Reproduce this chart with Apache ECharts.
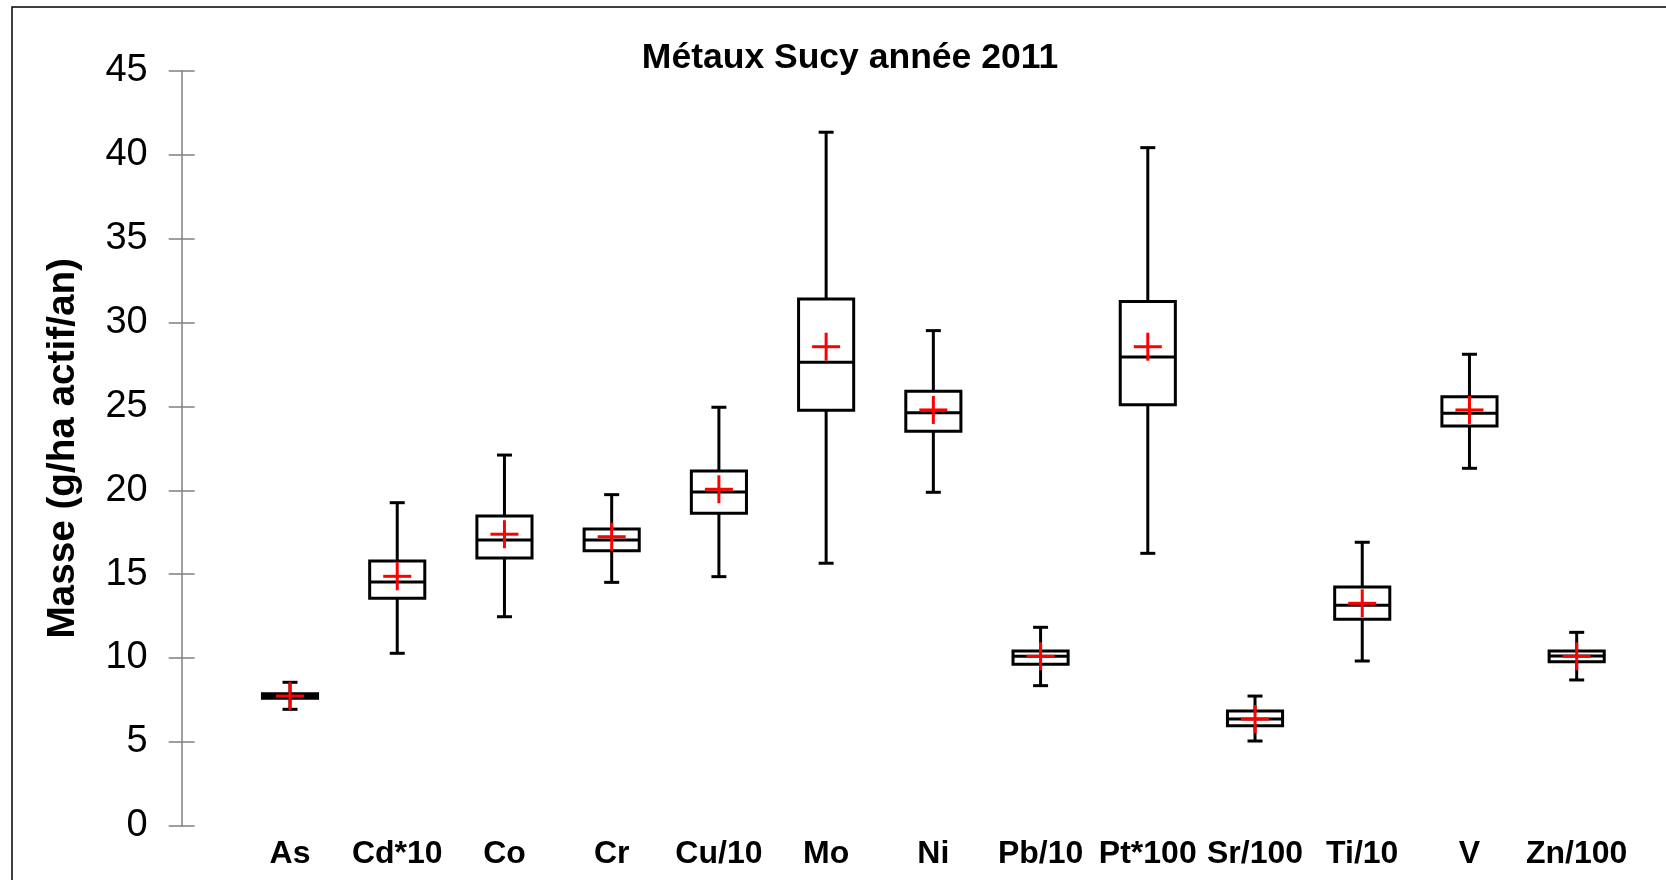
<!DOCTYPE html>
<html>
<head>
<meta charset="utf-8">
<script src="https://cdn.jsdelivr.net/npm/echarts@6/dist/echarts.min.js"></script>
<style>
html,body{margin:0;padding:0;background:#fff;}
#chart{width:1666px;height:880px;}
</style>
</head>
<body>
<div id="chart"></div>
<script>
var categories = ['As','Cd*10','Co','Cr','Cu/10','Mo','Ni','Pb/10','Pt*100','Sr/100','Ti/10','V','Zn/100'];
var minVals    = [6.94, 10.28, 12.46, 14.51, 14.85, 15.65, 19.88, 8.35, 16.24, 5.05, 9.82, 21.31, 8.69];
var q1Vals     = [7.60, 13.56, 15.96, 16.40, 18.63, 24.77, 23.52, 9.62, 25.10, 5.96, 12.31, 23.83, 9.78];
var medianVals = [7.73, 14.53, 17.04, 17.04, 19.90, 27.63, 24.63, 10.10, 27.95, 6.36, 13.14, 24.59, 10.12];
var q3Vals     = [7.87, 15.78, 18.47, 17.69, 21.15, 31.41, 25.90, 10.42, 31.25, 6.84, 14.23, 25.58, 10.42];
var maxVals    = [8.55, 19.26, 22.10, 19.74, 24.95, 41.35, 29.52, 11.83, 40.43, 7.73, 16.90, 28.11, 11.53];
var meanVals   = [7.73, 14.87, 17.38, 17.23, 20.06, 28.56, 24.79, 10.10, 28.56, 6.36, 13.26, 24.79, 10.10];
var yTicks = {min: 0, max: 45, interval: 5};

var data = categories.map(function (c, i) {
  return [i, minVals[i], q1Vals[i], medianVals[i], q3Vals[i], maxVals[i], meanVals[i]];
});

var chart = echarts.init(document.getElementById('chart'), null, {renderer: 'canvas'});

function renderItem(params, api) {
  var idx = api.value(0);
  var band = api.size([1, 0])[0];
  var half = band * 0.257;
  var cap = 7.5;
  var cross = 14;
  var pMin = api.coord([idx, api.value(1)]);
  var pQ1 = api.coord([idx, api.value(2)]);
  var pMed = api.coord([idx, api.value(3)]);
  var pQ3 = api.coord([idx, api.value(4)]);
  var pMax = api.coord([idx, api.value(5)]);
  var pMean = api.coord([idx, api.value(6)]);
  var x = pMed[0];
  var blk = {stroke: '#000', lineWidth: 3, fill: null};
  var red = {stroke: '#ff0000', lineWidth: 3};
  return {
    type: 'group',
    children: [
      {type: 'line', shape: {x1: x, y1: pMax[1], x2: x, y2: pQ3[1]}, style: blk},
      {type: 'line', shape: {x1: x, y1: pQ1[1], x2: x, y2: pMin[1]}, style: blk},
      {type: 'line', shape: {x1: x - cap, y1: pMax[1], x2: x + cap, y2: pMax[1]}, style: blk},
      {type: 'line', shape: {x1: x - cap, y1: pMin[1], x2: x + cap, y2: pMin[1]}, style: blk},
      {type: 'rect', shape: {x: x - half, y: pQ3[1], width: 2 * half, height: pQ1[1] - pQ3[1]}, style: {stroke: '#000', lineWidth: 3, fill: '#fff'}},
      {type: 'line', shape: {x1: x - half, y1: pMed[1], x2: x + half, y2: pMed[1]}, style: blk},
      {type: 'line', shape: {x1: x - cross, y1: pMean[1], x2: x + cross, y2: pMean[1]}, style: red},
      {type: 'line', shape: {x1: x, y1: pMean[1] - cross, x2: x, y2: pMean[1] + cross}, style: red}
    ]
  };
}

var option = {
  backgroundColor: '#fff',
  animation: false,
  title: {
    text: 'Métaux Sucy année 2011',
    left: 845,
    top: 35,
    textAlign: 'center',
    textStyle: {fontFamily: 'Liberation Sans, Arial, sans-serif', fontWeight: 'bold', fontSize: 35.5, color: '#000'}
  },
  graphic: [{
    type: 'rect',
    shape: {x: 12, y: 7, width: 1700, height: 900},
    style: {stroke: '#000', lineWidth: 1.5, fill: null},
    silent: true
  }],
  grid: {left: 236.4, right: 35.7, top: 71, bottom: 54.3, containLabel: false},
  xAxis: {
    type: 'category',
    data: categories,
    boundaryGap: true,
    axisLine: {show: false},
    axisTick: {show: false},
    splitLine: {show: false},
    axisLabel: {
      interval: 0,
      margin: 12,
      color: '#000',
      fontFamily: 'Liberation Sans, Arial, sans-serif',
      fontWeight: 'bold',
      fontSize: 32
    }
  },
  yAxis: [{
    type: 'value',
    min: yTicks.min, max: yTicks.max, interval: yTicks.interval,
    offset: 54.7,
    name: 'Masse (g/ha actif/an)',
    nameLocation: 'middle',
    nameGap: 99,
    nameRotate: 90,
    nameTextStyle: {fontFamily: 'Liberation Sans, Arial, sans-serif', fontWeight: 'bold', fontSize: 38.7, color: '#000'},
    axisLine: {show: true, lineStyle: {color: '#808080', width: 1.5}},
    axisTick: {show: true, inside: false, length: 13, lineStyle: {color: '#808080', width: 1.5}},
    splitLine: {show: false},
    axisLabel: {
      margin: 34,
      color: '#000',
      fontFamily: 'Liberation Sans, Arial, sans-serif',
      fontSize: 38
    }
  }, {
    type: 'value',
    min: yTicks.min, max: yTicks.max, interval: yTicks.interval,
    offset: 54.7,
    position: 'left',
    axisLine: {show: false},
    axisTick: {show: true, inside: true, length: 13, lineStyle: {color: '#808080', width: 1.5}},
    splitLine: {show: false},
    axisLabel: {show: false}
  }],
  series: [{
    type: 'custom',
    renderItem: renderItem,
    data: data,
    encode: {x: 0, y: [1, 2, 3, 4, 5, 6]},
    clip: false
  }]
};
chart.setOption(option);
</script>
</body>
</html>
